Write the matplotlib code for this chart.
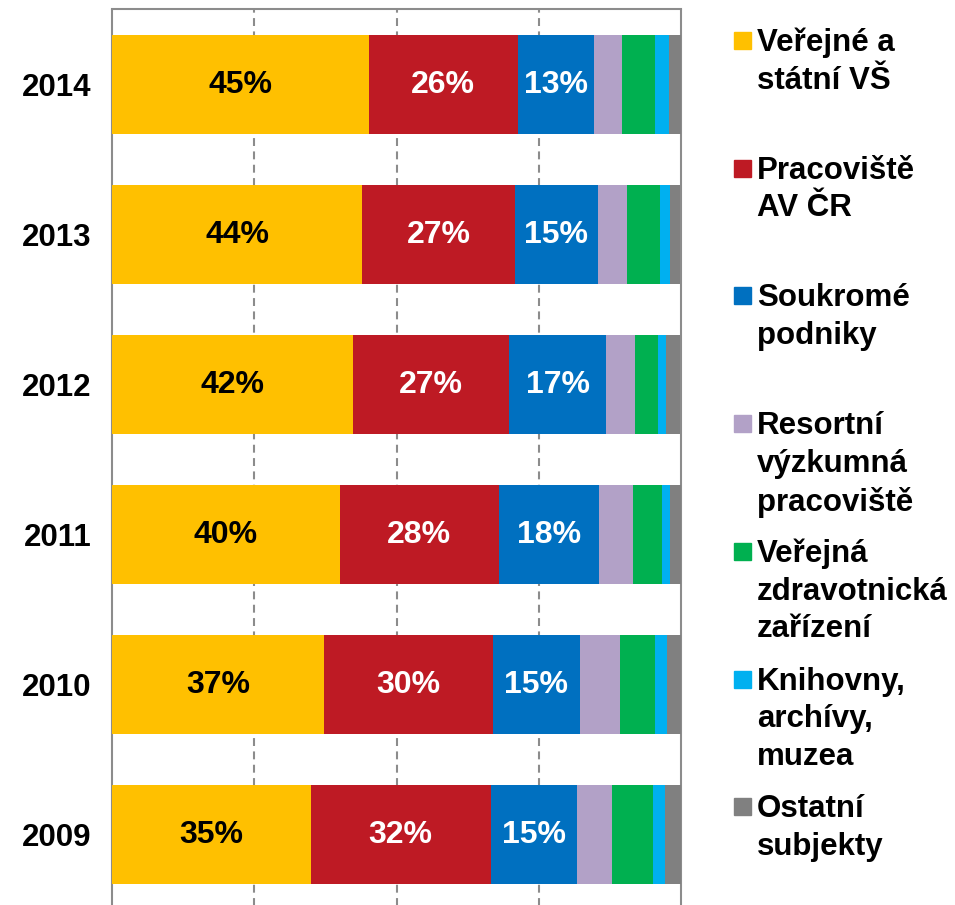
from matplotlib import pyplot as plt
from matplotlib.patches import Rectangle
import numpy as np

plt.rcParams['font.family'] = ['Liberation Sans', 'DejaVu Sans']

years = ['2009', '2010', '2011', '2012', '2013', '2014']
categories = ['Veřejné a\nstátní VŠ', 'Pracoviště\nAV ČR', 'Soukromé\npodniky',
              'Resortní\nvýzkumná\npracoviště', 'Veřejná\nzdravotnická\nzařízení',
              'Knihovny,\narchívy,\nmuzea', 'Ostatní\nsubjekty']
colors = ['#FFC000', '#BE1A24', '#0070C0', '#B2A1C7', '#00B050', '#00B0F0', '#808080']

# shares in %, one list per category, in the order of years
verejne_vs = [34.9, 37.3, 40.0, 42.4, 44.0, 45.1]
av_cr = [31.7, 29.6, 28.0, 27.4, 26.8, 26.2]
soukrome = [15.1, 15.3, 17.6, 17.1, 14.6, 13.4]
resortni = [6.2, 7.0, 6.0, 5.1, 5.1, 4.9]
zdravotnicka = [7.2, 6.2, 5.1, 4.0, 5.8, 5.8]
knihovny = [2.1, 2.1, 1.3, 1.4, 1.8, 2.5]
ostatni = [2.8, 2.5, 2.1, 2.5, 1.8, 2.1]
series = [verejne_vs, av_cr, soukrome, resortni, zdravotnicka, knihovny, ostatni]
label_colors = ['black', 'white', 'white']

fig = plt.figure(figsize=(9.55, 9.05), dpi=100)
ax = fig.add_axes([112 / 955, -4.5 / 905, 569 / 955, 900 / 905])

y = np.arange(len(years))
left = np.zeros(len(years))
for i, vals in enumerate(series):
    vals = np.array(vals)
    ax.barh(y, vals, 0.66, left=left, color=colors[i], zorder=3)
    if i < 3:
        for yy, l, v in zip(y, left, vals):
            ax.text(l + v / 2, yy, '{:.0f}%'.format(v), ha='center', va='center',
                    fontsize=23, fontweight='bold', color=label_colors[i], zorder=4)
    left += vals

ax.set_xlim(0, 100)
ax.set_ylim(-0.5, len(years) - 0.5)
ax.set_xticks([25, 50, 75])
ax.set_xticklabels([])
ax.xaxis.grid(True, color='#8C8C8C', linestyle=(0, (3.8, 2.6)), linewidth=1.5, zorder=0)
ax.set_yticks(y)
ax.set_yticklabels(years, fontsize=22.5, fontweight='bold')
ax.tick_params(axis='both', length=0)
ax.tick_params(axis='y', pad=15)
for s in ['left', 'top', 'right']:
    ax.spines[s].set_color('#8C8C8C')
    ax.spines[s].set_linewidth(1.5)
ax.spines['bottom'].set_visible(False)

# legend drawn by hand so the marker sits on the first line of each label
for i, (cat, c) in enumerate(zip(categories, colors)):
    top = 32 + i * 127.7
    fig.patches.append(Rectangle((734 / 955, 1 - (top + 17) / 905), 17 / 955, 17 / 905,
                                 transform=fig.transFigure, color=c))
    fig.text(757 / 955, 1 - (top - 4) / 905, cat, ha='left', va='top', fontsize=22.5,
             fontweight='bold', linespacing=1.33)

plt.savefig('out.png', dpi=100)
